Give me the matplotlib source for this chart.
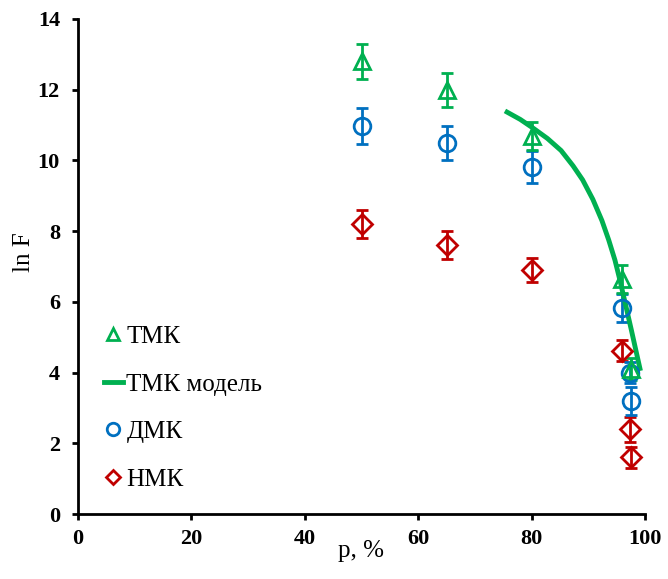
import matplotlib
matplotlib.use('Agg')
from matplotlib import pyplot as plt
from matplotlib.lines import Line2D

# p, % и ln F для трёх серий (с погрешностями)
p_tmk = [50, 65, 80, 95.9, 97.6]
lnf_tmk = [12.8, 12.0, 10.7, 6.65, 4.1]
err_tmk = [0.5, 0.48, 0.4, 0.4, 0.3]

p_dmk = [50, 65, 80, 96, 97.4, 97.5]
lnf_dmk = [10.97, 10.5, 9.82, 5.82, 4.0, 3.2]
err_dmk = [0.5, 0.48, 0.45, 0.4, 0.3, 0.4]

p_nmk = [50, 65, 80, 96, 97.4, 97.6]
lnf_nmk = [8.2, 7.6, 6.9, 4.62, 2.4, 1.6]
err_nmk = [0.4, 0.4, 0.35, 0.3, 0.35, 0.3]

# модельная кривая ТМК (точки)
p_model = [75.3, 78.0, 80.3, 82.8, 85.2, 87.3, 89.0, 90.8, 92.4, 93.6, 94.7,
           95.6, 96.6, 97.6, 98.5, 99.2]
lnf_model = [11.40, 11.16, 10.91, 10.62, 10.28, 9.85, 9.45, 8.9, 8.3, 7.75, 7.18,
             6.6, 5.9, 5.2, 4.55, 4.05]

green = '#00B050'
blue = '#0070C0'
red = '#C00000'

plt.rcParams['font.family'] = ['Liberation Serif', 'DejaVu Serif']

fig = plt.figure(figsize=(6.68, 5.79), dpi=100)
ax = fig.add_axes([78 / 668, 1 - 514 / 579, (645 - 78) / 668, (514 - 19) / 579])

mk = dict(markersize=12, markeredgewidth=2, markerfacecolor='none', linestyle='none',
          capsize=4, elinewidth=2, capthick=2)
ax.errorbar(p_nmk, lnf_nmk, yerr=err_nmk, marker='D', color=red, ecolor=red,
            markeredgecolor=red, **dict(mk, markersize=10))
ax.errorbar(p_dmk, lnf_dmk, yerr=err_dmk, marker='o', color=blue, ecolor=blue,
            markeredgecolor=blue, **mk)
ax.errorbar(p_tmk, lnf_tmk, yerr=err_tmk, marker='^', color=green, ecolor=green,
            markeredgecolor=green, **mk)
ax.plot(p_model, lnf_model, color=green, linewidth=3.5, solid_capstyle='butt',
        solid_joinstyle='round')

ax.set_xlim(0, 100)
ax.set_ylim(0, 14)
ax.set_xticks(range(0, 101, 20))
ax.set_yticks(range(0, 15, 2))
for s in ['top', 'right']:
    ax.spines[s].set_visible(False)
for s in ['left', 'bottom']:
    ax.spines[s].set_linewidth(2)
ax.tick_params(direction='out', width=2, length=4, labelsize=16)
ax.tick_params(axis='x', pad=7)
ax.tick_params(axis='y', pad=9)
for lbl in ax.get_xticklabels() + ax.get_yticklabels():
    lbl.set_fontweight('bold')
ax.set_xlabel('p, %', fontsize=18)
ax.set_ylabel('ln F', fontsize=18)
ax.xaxis.set_label_coords(0.5, -0.052)
ax.yaxis.set_label_coords(-0.075, 0.53)

handles = [
    Line2D([], [], marker='^', color=green, markerfacecolor='none', markeredgewidth=2,
           markersize=9, linestyle='none'),
    Line2D([], [], color=green, linewidth=3.5),
    Line2D([], [], marker='o', color=blue, markerfacecolor='none', markeredgewidth=2,
           markersize=9, linestyle='none'),
    Line2D([], [], marker='D', color=red, markerfacecolor='none', markeredgewidth=2,
           markersize=7, linestyle='none'),
]
labels = ['ТМК', 'ТМК модель', 'ДМК', 'НМК']
ax.legend(handles, labels, loc='lower left', bbox_to_anchor=(0.0455, 0.047), frameon=False,
          fontsize=18, labelspacing=1.0, handlelength=0.75, handletextpad=0.15,
          borderpad=0, borderaxespad=0)

fig.savefig('out.png', dpi=100)
